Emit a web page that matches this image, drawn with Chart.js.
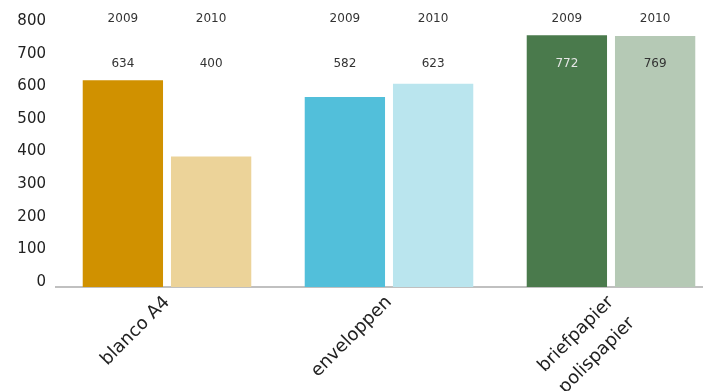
<!DOCTYPE html>
<html>
<head>
<meta charset="utf-8">
<script src="https://cdn.jsdelivr.net/npm/chart.js@4/dist/chart.umd.min.js"></script>
<style>
  html, body { margin: 0; padding: 0; background: #fff; overflow: hidden; }
  #wrap { width: 722px; height: 391px; }
</style>
</head>
<body>
<div id="wrap"><canvas id="c" width="722" height="391"></canvas></div>
<script>
// Paper consumption per product group, 2009 vs 2010
const categories = [['blanco A4'], ['enveloppen'], ['briefpapier', 'polispapier']];
const years = ['2009', '2010'];
const values2009 = [634, 582, 772];
const values2010 = [400, 623, 769];
const yTicks = [0, 100, 200, 300, 400, 500, 600, 700, 800];

const colors2009 = ['#d09100', '#52bfda', '#4a7a4c'];
const colors2010 = ['#ecd399', '#bae5ee', '#b5c9b5'];
const valueColors2009 = ['#333333', '#333333', '#e6e6e6'];
const valueColors2010 = ['#333333', '#333333', '#333333'];

// Year caption above each bar and its value a little below
const barLabels = {
  id: 'barLabels',
  afterDatasetsDraw(chart) {
    const ctx = chart.ctx;
    const yScale = chart.scales.y;
    ctx.save();
    ctx.textAlign = 'center';
    ctx.textBaseline = 'middle';
    ctx.font = '12px "DejaVu Sans"';
    chart.data.datasets.forEach((ds, di) => {
      const meta = chart.getDatasetMeta(di);
      meta.data.forEach((bar, i) => {
        ctx.fillStyle = '#333333';
        ctx.fillText(ds.label, bar.x, yScale.getPixelForValue(800) - 7);
        ctx.fillStyle = ds.valueColors[i];
        ctx.fillText(String(ds.data[i]), bar.x, yScale.getPixelForValue(683));
      });
    });
    ctx.restore();
  }
};

new Chart(document.getElementById('c'), {
  type: 'bar',
  data: {
    labels: categories,
    datasets: [
      { label: years[0], data: values2009, backgroundColor: colors2009, valueColors: valueColors2009,
        categoryPercentage: 0.795, barPercentage: 0.91 },
      { label: years[1], data: values2010, backgroundColor: colors2010, valueColors: valueColors2010,
        categoryPercentage: 0.795, barPercentage: 0.91 }
    ]
  },
  options: {
    responsive: false,
    animation: false,
    layout: { padding: { top: 26, right: 0, left: 0, bottom: 0 } },
    plugins: { legend: { display: false }, tooltip: { enabled: false } },
    scales: {
      x: {
        grid: { display: false, drawTicks: false },
        border: { display: true, color: '#c0c0c0', width: 2 },
        ticks: {
          color: '#222', font: { family: 'DejaVu Sans', size: 18, lineHeight: 1.65 },
          maxRotation: 45, minRotation: 45, padding: 2
        },
        afterFit(scale) { scale.height = 104; }
      },
      y: {
        min: 0, max: 800,
        afterBuildTicks(scale) { scale.ticks = yTicks.map(v => ({ value: v })); },
        grid: { display: false, drawTicks: false },
        border: { display: false },
        ticks: {
          color: '#222', font: { family: 'DejaVu Sans', size: 15 },
          padding: 10, labelOffset: -5
        },
        afterFit(scale) { scale.width = 56; }
      }
    }
  },
  plugins: [barLabels]
});
</script>
</body>
</html>
